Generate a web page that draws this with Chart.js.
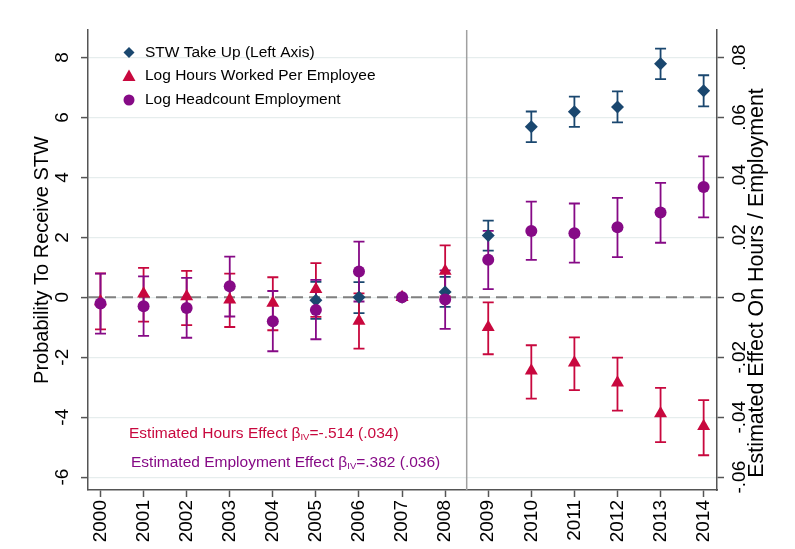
<!DOCTYPE html>
<html>
<head>
<meta charset="utf-8">
<script src="https://cdn.jsdelivr.net/npm/chart.js@4.4.1/dist/chart.umd.min.js"></script>
<style>
  html, body { margin: 0; padding: 0; background: #fff; }
  #wrap { width: 795px; height: 549px; }
</style>
</head>
<body>
<div id="wrap"><canvas id="chart" width="795" height="549"></canvas></div>
<script>
// --- data ---
const years = [2000, 2001, 2002, 2003, 2004, 2005, 2006, 2007, 2008, 2009, 2010, 2011, 2012, 2013, 2014];

// STW take up (left axis)
const stw   = [null, null, null, null, null, -0.10, 0.00, 0.00, 0.18, 2.06, 5.69, 6.19, 6.35, 7.79, 6.89];
const stwHi = [null, null, null, null, null, 0.52, 0.51, null, 0.68, 2.56, 6.20, 6.70, 6.87, 8.30, 7.41];
const stwLo = [null, null, null, null, null, -0.72, -0.53, null, -0.32, 1.56, 5.18, 5.69, 5.84, 7.28, 6.37];

// log hours worked per employee (right axis)
const hours   = [-0.0014, 0.0012, 0.0003, -0.0008, -0.0019, 0.0027, -0.0079, 0.0000, 0.0088, -0.0100, -0.0245, -0.0218, -0.0285, -0.0388, -0.0430];
const hoursHi = [0.0080, 0.0098, 0.0088, 0.0079, 0.0067, 0.0114, 0.0013, null, 0.0173, -0.0017, -0.0160, -0.0134, -0.0201, -0.0302, -0.0343];
const hoursLo = [-0.0107, -0.0081, -0.0093, -0.0099, -0.0110, -0.0065, -0.0171, null, 0.0003, -0.0190, -0.0338, -0.0310, -0.0378, -0.0483, -0.0527];

// log headcount employment (right axis)
const heads   = [-0.0021, -0.0030, -0.0036, 0.0037, -0.0080, -0.0042, 0.0086, 0.0000, -0.0007, 0.0125, 0.0221, 0.0214, 0.0234, 0.0283, 0.0368];
const headsHi = [0.0079, 0.0070, 0.0065, 0.0136, 0.0021, 0.0058, 0.0186, null, 0.0090, 0.0222, 0.0319, 0.0313, 0.0332, 0.0382, 0.0470];
const headsLo = [-0.0121, -0.0129, -0.0135, -0.0064, -0.0180, -0.0140, -0.0014, null, -0.0105, 0.0027, 0.0125, 0.0116, 0.0134, 0.0182, 0.0267];

const leftTicks   = [-6, -4, -2, 0, 2, 4, 6, 8];
const leftLabels  = ['-6', '-4', '-2', '0', '2', '4', '6', '8'];
const rightTicks  = [-0.06, -0.04, -0.02, 0, 0.02, 0.04, 0.06, 0.08];
const rightLabels = ['-.06', '-.04', '-.02', '0', '.02', '.04', '.06', '.08'];

const breakYear = 2008.5;

const seriesNames = ['STW Take Up (Left Axis)', 'Log Hours Worked Per Employee', 'Log Headcount Employment'];
const noteHours = ['Estimated Hours Effect β', 'IV', '=-.514 (.034)'];
const noteEmp   = ['Estimated Employment Effect β', 'IV', '=.382 (.036)'];

const BLUE = '#1a476f', RED = '#c8083e', PURPLE = '#860a86';
const FONT = '"Liberation Sans", Arial, sans-serif';

const toPts = vals => years.map((x, i) => ({ x, y: vals[i] })).filter(p => p.y !== null);

// error bars + reference lines, under the markers
const overlay = {
  id: 'overlay',
  beforeDatasetsDraw(chart) {
    const { ctx, chartArea: a, scales } = chart;
    const x = scales.x, yl = scales.y, yr = scales.y1;
    ctx.save();
    // zero line
    ctx.strokeStyle = '#808080';
    ctx.lineWidth = 2;
    ctx.setLineDash([11, 6]);
    const y0 = yl.getPixelForValue(0);
    ctx.beginPath(); ctx.moveTo(a.left, y0); ctx.lineTo(a.right, y0); ctx.stroke();
    ctx.setLineDash([]);
    // break line
    ctx.strokeStyle = '#a0a0a0';
    ctx.lineWidth = 1.5;
    const xb = x.getPixelForValue(breakYear);
    ctx.beginPath(); ctx.moveTo(xb, a.top); ctx.lineTo(xb, a.bottom); ctx.stroke();

    const bars = [[stwHi, stwLo, yl, BLUE], [hoursHi, hoursLo, yr, RED], [headsHi, headsLo, yr, PURPLE]];
    ctx.lineWidth = 1.8;
    bars.forEach(([hi, lo, sc, col]) => {
      ctx.strokeStyle = col;
      years.forEach((yr_, i) => {
        if (hi[i] === null) return;
        const px = x.getPixelForValue(yr_);
        const ph = sc.getPixelForValue(hi[i]), pl = sc.getPixelForValue(lo[i]);
        ctx.beginPath();
        ctx.moveTo(px, ph); ctx.lineTo(px, pl);
        ctx.moveTo(px - 5.5, ph); ctx.lineTo(px + 5.5, ph);
        ctx.moveTo(px - 5.5, pl); ctx.lineTo(px + 5.5, pl);
        ctx.stroke();
      });
    });
    ctx.restore();
  },
  afterDraw(chart) {
    const { ctx, chartArea: a, scales } = chart;
    ctx.save();
    ctx.fillStyle = '#000';
    ctx.textAlign = 'center';
    ctx.textBaseline = 'middle';
    ctx.font = '19px ' + FONT;
    const vert = (txt, px, py) => {
      ctx.save(); ctx.translate(px, py); ctx.rotate(-Math.PI / 2); ctx.fillText(txt, 0, 0); ctx.restore();
    };
    leftTicks.forEach((v, i) => vert(leftLabels[i], 63, scales.y.getPixelForValue(v)));
    rightTicks.forEach((v, i) => vert(rightLabels[i], 739.5, scales.y1.getPixelForValue(v)));
    ctx.font = '20px ' + FONT;
    vert('Probability To Receive STW', 42, (a.top + a.bottom) / 2);
    ctx.font = '21.4px ' + FONT;
    vert('Estimated Effect On Hours / Employment', 757, 283);

    // legend
    ctx.textAlign = 'left';
    ctx.font = '15.5px ' + FONT;
    const rows = [52.5, 76, 100];
    const mx = 129;
    // diamond
    ctx.fillStyle = BLUE;
    ctx.beginPath();
    ctx.moveTo(mx, rows[0] - 5.5); ctx.lineTo(mx + 5.5, rows[0]); ctx.lineTo(mx, rows[0] + 5.5); ctx.lineTo(mx - 5.5, rows[0]);
    ctx.closePath(); ctx.fill();
    // triangle
    ctx.fillStyle = RED;
    ctx.beginPath();
    ctx.moveTo(mx, rows[1] - 6.5); ctx.lineTo(mx + 6.5, rows[1] + 5); ctx.lineTo(mx - 6.5, rows[1] + 5);
    ctx.closePath(); ctx.fill();
    // circle
    ctx.fillStyle = PURPLE;
    ctx.beginPath(); ctx.arc(mx, rows[2], 5.5, 0, Math.PI * 2); ctx.fill();
    ctx.fillStyle = '#000';
    seriesNames.forEach((s, i) => ctx.fillText(s, 145, rows[i]));

    // annotations
    const note = (parts, px, py, col) => {
      ctx.fillStyle = col;
      ctx.font = '15.5px ' + FONT;
      ctx.textBaseline = 'alphabetic';
      ctx.fillText(parts[0], px, py);
      let w = ctx.measureText(parts[0]).width;
      ctx.font = '9.5px ' + FONT;
      ctx.fillText(parts[1], px + w, py + 2);
      w += ctx.measureText(parts[1]).width;
      ctx.font = '15.5px ' + FONT;
      ctx.fillText(parts[2], px + w, py);
    };
    note(noteHours, 129, 438, RED);
    note(noteEmp, 131, 467, PURPLE);
    ctx.restore();
  }
};

new Chart(document.getElementById('chart'), {
  type: 'scatter',
  data: {
    datasets: [
      { label: seriesNames[2], data: toPts(heads), yAxisID: 'y1', order: 0,
        pointStyle: 'circle', pointRadius: 6, backgroundColor: PURPLE, borderColor: PURPLE, borderWidth: 0 },
      { label: seriesNames[1], data: toPts(hours), yAxisID: 'y1', order: 1,
        pointStyle: 'triangle', pointRadius: 7.5, backgroundColor: RED, borderColor: RED, borderWidth: 0 },
      { label: seriesNames[0], data: toPts(stw), yAxisID: 'y', order: 2,
        pointStyle: 'rectRot', pointRadius: 6.5, backgroundColor: BLUE, borderColor: BLUE, borderWidth: 0 }
    ]
  },
  options: {
    responsive: false,
    animation: false,
    layout: { padding: { top: 30, left: 0, right: 0, bottom: 0 } },
    plugins: { legend: { display: false }, tooltip: { enabled: false } },
    scales: {
      x: {
        type: 'linear', min: 1999.71, max: 2014.31,
        afterBuildTicks: s => { s.ticks = years.map(v => ({ value: v })); },
        afterFit: s => { s.height = 59; },
        grid: { drawOnChartArea: false, drawTicks: true, tickLength: 7, tickColor: '#555', tickWidth: 1.5 },
        border: { display: true, color: '#555', width: 1.5 },
        ticks: { minRotation: 90, maxRotation: 90, autoSkip: false, padding: 3, color: '#000',
                 font: { family: FONT, size: 19 }, callback: v => String(v) }
      },
      y: {
        position: 'left', min: -6.43, max: 8.92,
        afterBuildTicks: s => { s.ticks = leftTicks.map(v => ({ value: v })); },
        afterFit: s => { s.width = 88; },
        grid: { color: '#e6eded', lineWidth: 1.2, drawTicks: true, tickLength: 7, tickColor: '#555', tickWidth: 1.5 },
        border: { display: true, color: '#555', width: 1.5 },
        ticks: { display: false }
      },
      y1: {
        position: 'right', min: -0.0643, max: 0.0892,
        afterBuildTicks: s => { s.ticks = rightTicks.map(v => ({ value: v })); },
        afterFit: s => { s.width = 78; },
        grid: { drawOnChartArea: false, drawTicks: true, tickLength: 7, tickColor: '#555', tickWidth: 1.5 },
        border: { display: true, color: '#555', width: 1.5 },
        ticks: { display: false }
      }
    }
  },
  plugins: [overlay]
});
</script>
</body>
</html>
